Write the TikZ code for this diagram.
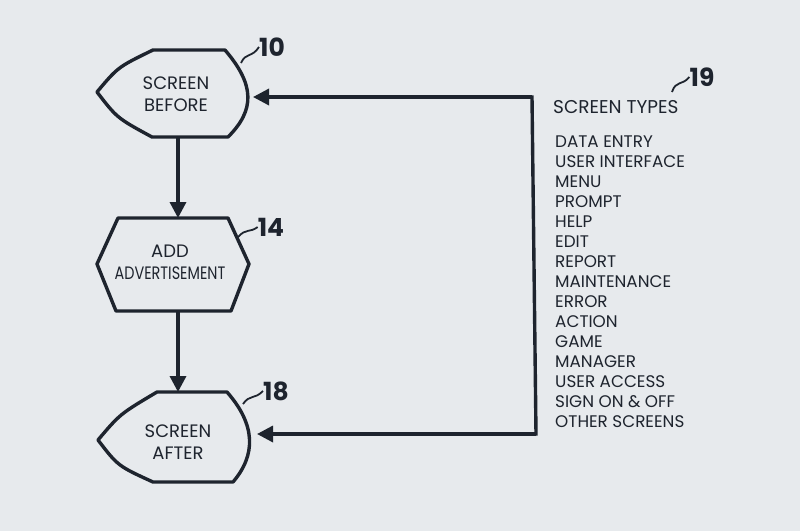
\documentclass[tikz,border=0pt]{standalone}
\usepackage{fontspec}
\setmainfont{Poppins}
\usetikzlibrary{arrows.meta,calc}
\definecolor{bg}{RGB}{231,234,237}
\definecolor{ink}{RGB}{30,36,46}
\begin{document}
\begin{tikzpicture}[x=1pt,y=-1pt,
  shp/.style={draw=ink,line width=3.4pt,line join=round},
  ln/.style={draw=ink,line width=3.4pt},
  arr/.style={ln,-{Triangle[length=16pt,width=16pt]}},
  lead/.style={draw=ink,line width=1.8pt},
  box/.style={inner sep=0pt,outer sep=0pt},
  txt/.style={text=ink,font=\fontsize{18}{22}\selectfont,align=center,inner sep=0pt},
  num/.style={text=ink,font=\fontsize{25}{25}\selectfont\bfseries,inner sep=0pt},
  item/.style={text=ink,font=\fontsize{16.8}{20}\selectfont,anchor=base west,inner sep=0pt}]
\fill[bg] (0,0) rectangle (800,531);
\useasboundingbox (0,0) rectangle (800,531);
% shape boxes
\node[box,minimum width=150pt,minimum height=87pt] (sb) at (172,93.5) {};
\node[box,minimum width=152pt,minimum height=93pt] (hx) at (173,264.5) {};
\node[box,minimum width=152pt,minimum height=90pt] (sa) at (174,437) {};
% outlines
\draw[shp] (97,92) .. controls (118,67) .. (153,50) -- (225,50)
  .. controls (255,85) and (255,110) .. (228,137) -- (152,137)
  .. controls (117,118) .. (97,92) -- cycle;
\draw[shp] (97,264) -- (118,218) -- (228,218) -- (249,264) -- (231,311) -- (116,311) -- cycle;
\draw[shp] (98,440) .. controls (120,414) .. (157,392) -- (227,392)
  .. controls (256,425) and (256,455) .. (233,482) -- (153,482)
  .. controls (118,466) .. (98,440) -- cycle;
% texts
\node[txt] (sbt) at (176,94) {SCREEN\\BEFORE};
\node[txt] (hxt) at (170,262) {ADD\\\scalebox{0.8}[1]{ADVERTISEMENT}};
\node[txt] (sat) at (178,442) {SCREEN\\AFTER};
% numbers
\node[num] (n10) at (272,47) {10};
\node[num] (n14) at (271,227) {14};
\node[num] (n18) at (276,391) {18};
\node[num] (n19) at (702,77) {19};
\draw[lead] (241,63) .. controls (246,52) and (252,58) .. (n10.west);
\draw[lead] (238,237) .. controls (246,228) and (250,233) .. (n14.west);
\draw[lead] (243,404) .. controls (250,394) and (254,400) .. (n18.west);
\draw[lead] (672,92) .. controls (676,80) and (682,86) .. (n19.west);
% connectors
\coordinate (ax) at (178,0);
\coordinate (bt) at (532,97);
\coordinate (bb) at (536,434);
\draw[arr] (sb.south -| ax) -- (hx.north -| ax);
\draw[arr] (hx.south -| ax) -- (sa.north -| ax);
\draw[ln,line cap=rect] (bt) -- (bb);
\draw[arr] (bt) -- ($(bt -| sb.east)+(6,0)$);
\draw[arr] (bb) -- ($(bb -| sa.east)+(7,0)$);
% list
\node[item,font=\fontsize{18.5}{20}\selectfont] (st) at (553,113) {SCREEN TYPES};
\foreach \t [count=\i from 0] in {DATA ENTRY,USER INTERFACE,MENU,PROMPT,HELP,EDIT,REPORT,MAINTENANCE,ERROR,ACTION,GAME,MANAGER,USER ACCESS,SIGN ON \& OFF,OTHER SCREENS}
  \node[item] (l\i) at (555,147.5+20*\i) {\t};
\end{tikzpicture}
\end{document}
